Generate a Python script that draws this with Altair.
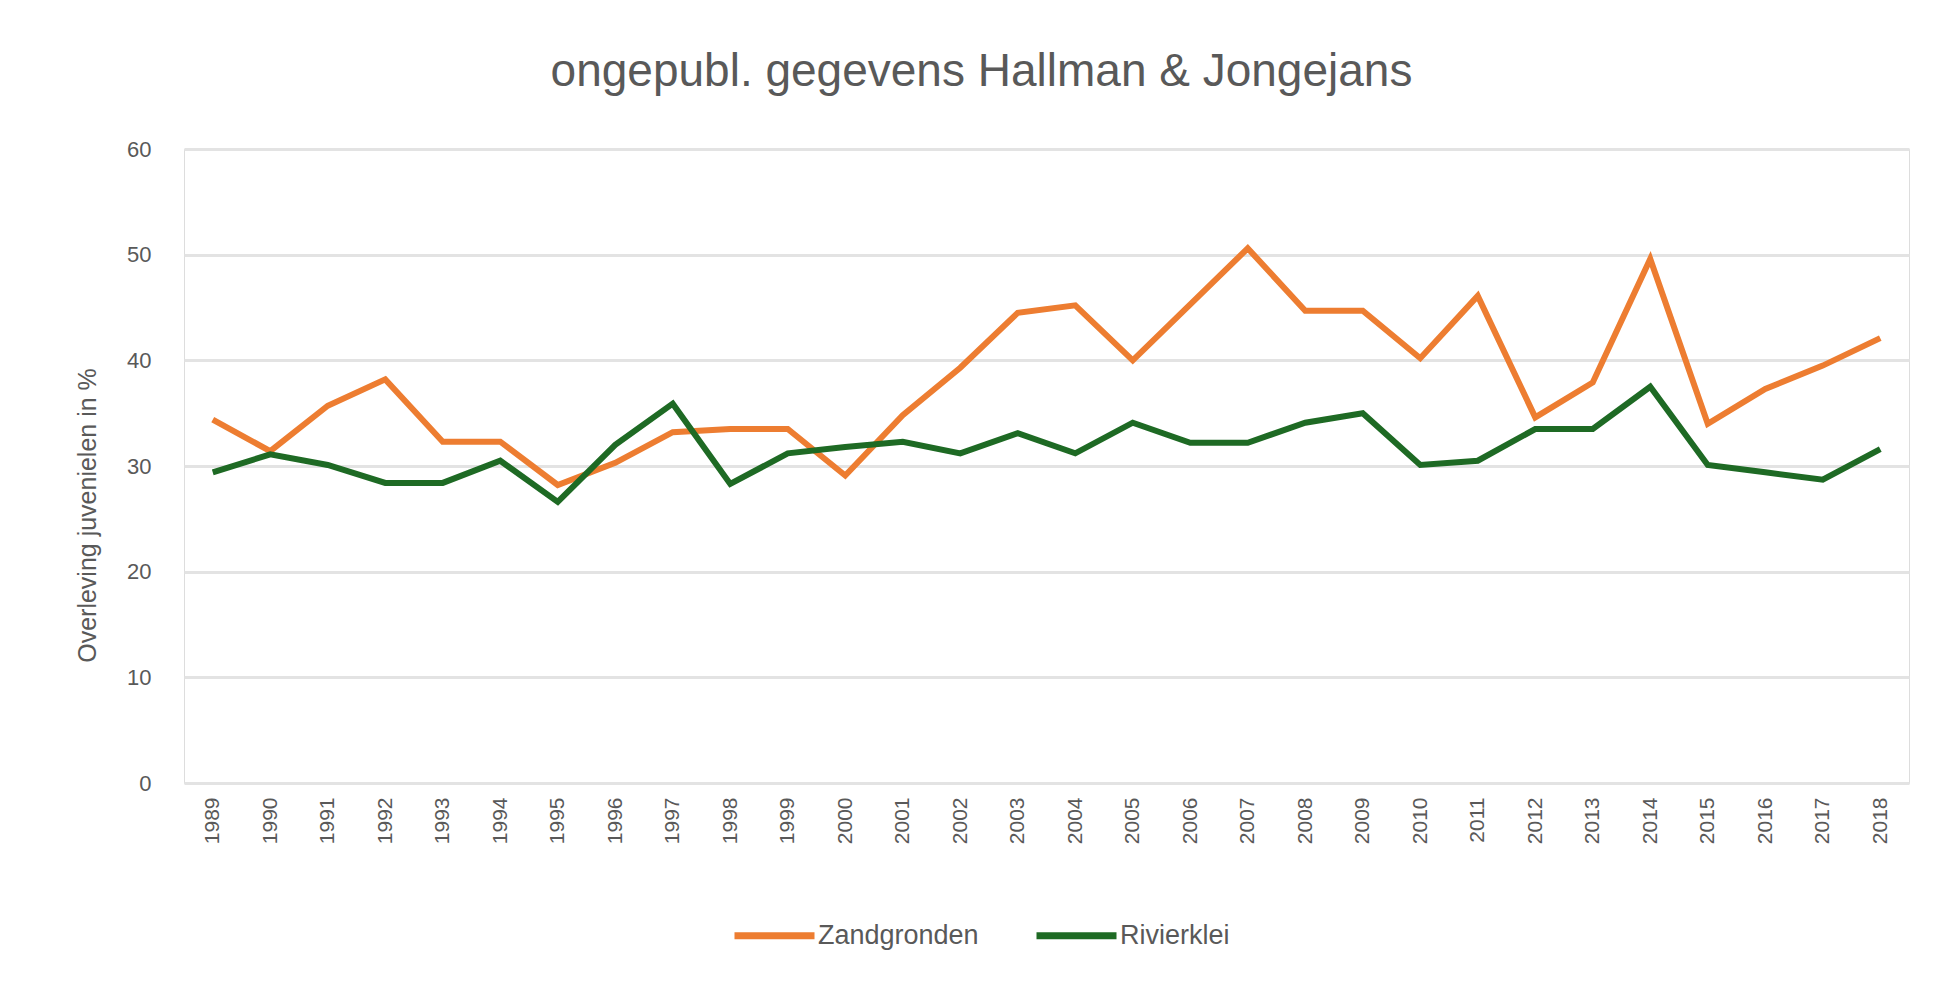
import altair as alt
import pandas as pd

years = [str(y) for y in range(1989, 2019)]
zandgronden = [34.4, 31.4, 35.7, 38.2, 32.3, 32.3, 28.2, 30.3, 33.2, 33.5,
               33.5, 29.1, 34.8, 39.3, 44.5, 45.2, 40.0, 45.3, 50.6, 44.7,
               44.7, 40.2, 46.1, 34.6, 37.9, 49.6, 34.0, 37.3, 39.5, 42.1]
rivierklei = [29.4, 31.1, 30.1, 28.4, 28.4, 30.5, 26.6, 32.0, 35.9, 28.3,
              31.2, 31.8, 32.3, 31.2, 33.1, 31.2, 34.1, 32.2, 32.2, 34.1,
              35.0, 30.1, 30.5, 33.5, 33.5, 37.5, 30.1, 29.4, 28.7, 31.6]
series = ["Zandgronden", "Rivierklei"]
colors = ["#ED7D31", "#1E6A24"]

rows = []
for i, y in enumerate(years):
    rows.append({"jaar": y, "reeks": series[0], "waarde": zandgronden[i], "o": 0})
    rows.append({"jaar": y, "reeks": series[1], "waarde": rivierklei[i], "o": 1})
df = pd.DataFrame(rows)

FONT = "Liberation Sans"

chart = alt.Chart(df).mark_line(strokeWidth=6, strokeJoin="miter").encode(
    x=alt.X("jaar:O", scale=alt.Scale(type="point", padding=0.5),
            axis=alt.Axis(title=None, labelAngle=270, labelPadding=14, ticks=False,
                          domain=False, grid=False, labelFontSize=21,
                          labelColor="#595959", labelFont=FONT)),
    y=alt.Y("waarde:Q", scale=alt.Scale(domain=[0, 60], nice=False),
            axis=alt.Axis(title="Overleving juvenielen in %", values=[0, 10, 20, 30, 40, 50, 60],
                          ticks=False, domain=False, labelPadding=33, labelFontSize=22,
                          labelColor="#595959", labelFont=FONT,
                          gridColor="#e3e3e3", gridWidth=3,
                          titleFont=FONT, titleFontSize=25, titleFontWeight="normal",
                          titleColor="#595959", titleAngle=270, titleX=-97, titleY=366,
                          titleAlign="center", titleBaseline="middle")),
    color=alt.Color("reeks:N", scale=alt.Scale(domain=series, range=colors),
                    legend=alt.Legend(title=None, orient="none", direction="horizontal",
                                      legendX=547, legendY=743, symbolType="stroke",
                                      symbolSize=6400, symbolStrokeWidth=7,
                                      labelFont=FONT, labelFontSize=27, labelColor="#595959",
                                      labelLimit=400, columnPadding=43, labelOffset=0)),
    order="o:Q",
).properties(
    width=1725, height=634,
    title=alt.TitleParams("ongepubl. gegevens Hallman & Jongejans", font=FONT, fontSize=46,
                          fontWeight="normal", color="#595959", anchor="middle", dx=-65, offset=42),
    autosize=alt.AutoSizeParams(type="none"),
    padding={"left": 176, "top": 141, "right": 27, "bottom": 185},
).configure_view(stroke=None).configure(background="white")

chart.save("out.html", embed_options={"renderer": "svg", "actions": False})
